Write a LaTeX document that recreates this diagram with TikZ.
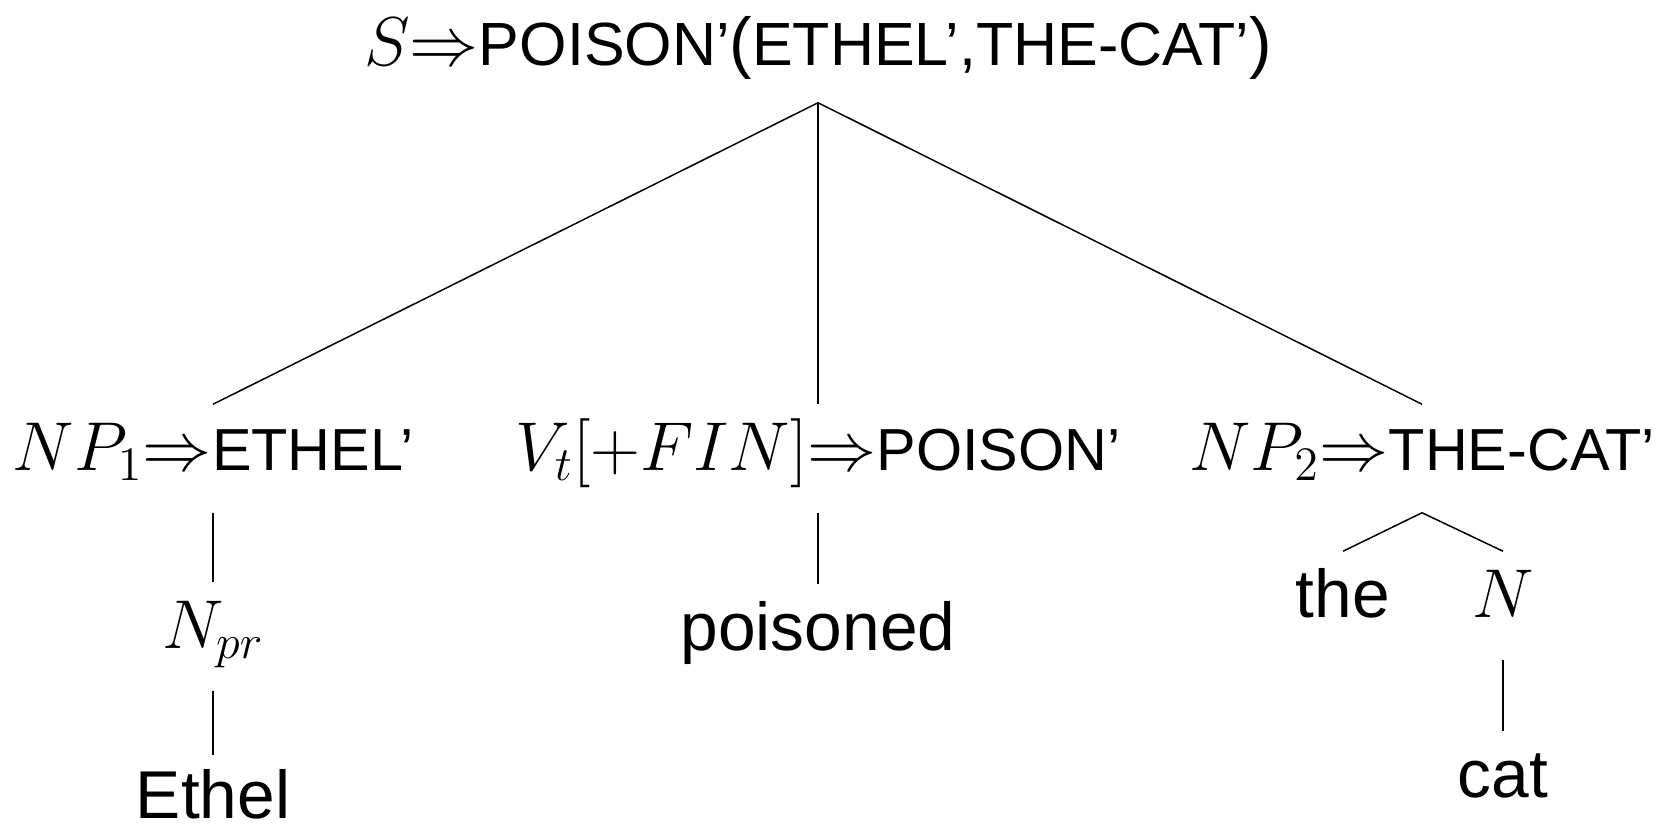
\documentclass[tikz,border=0pt]{standalone}
\usepackage[no-math]{fontspec}
\setmainfont{Liberation Sans}

\newcommand{\lf}[2][17.8]{{\fontsize{#1}{20}\selectfont #2}}

\begin{document}
\begin{tikzpicture}[x=0.3pt, y=-0.3pt, line width=0.45pt,
    lbl/.style={inner sep=0pt, anchor=base, text height=19.5pt, text depth=12.6pt,
        font=\fontsize{20.3}{24}\selectfont}]
    \useasboundingbox (0,0) rectangle (1669,830);

    \node[lbl, text depth=10.8pt] (S) at (818,66) {$S{\Rightarrow}$\lf[18.3]{POISON'}(\lf[18.3]{ETHEL',THE-CAT'})};

    \node[lbl] (NP1) at (213,470) {$NP_1{\Rightarrow}$\lf{ETHEL'}};
    \node[lbl] (Vt) at (818,470) {$V_t[+FIN]{\Rightarrow}$\lf{POISON'}};
    \node[lbl] (NP2) at (1422,470) {$NP_2{\Rightarrow}$\lf{THE-CAT'}};

    \node[lbl] (Npr) at (213,648) {$N_{pr}$};
    \node[lbl, text depth=0pt, text height=18.6pt] (Ethel) at (213,818) {Ethel};
    \node[lbl] (poisoned) at (818,650) {poisoned};
    \node[lbl] (the) at (1343,617) {the};
    \node[lbl] (N) at (1503,617) {$N$};
    \node[lbl] (cat) at (1503,797) {cat};

    \foreach \c in {NP1,Vt,NP2} {\draw (S.south) -- (\c.north);}
    \draw (NP1.south) -- (Npr.north);
    \draw (Npr.south) -- (Ethel.north);
    \draw (Vt.south) -- (poisoned.north);
    \draw (the.north) -- (NP2.south) -- (N.north);
    \draw (N.south) -- (cat.north);
\end{tikzpicture}
\end{document}
